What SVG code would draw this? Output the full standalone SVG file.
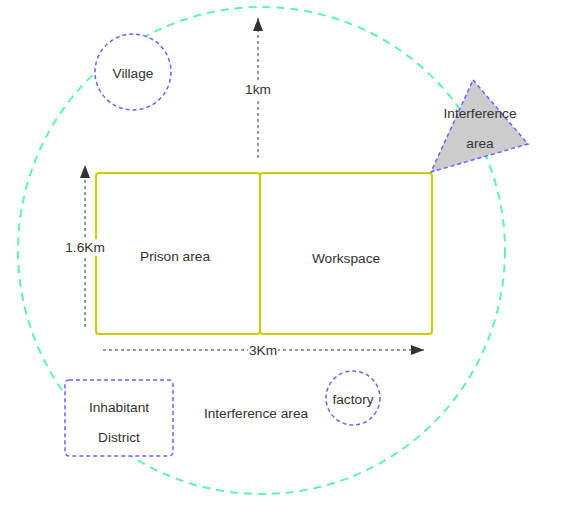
<svg xmlns="http://www.w3.org/2000/svg" width="571" height="529" viewBox="0 0 571 529">
<defs>
<marker id="ah" viewBox="0 0 13 10" refX="13" refY="5" markerWidth="13" markerHeight="10" markerUnits="userSpaceOnUse" orient="auto">
<path d="M0,0 L13,5 L0,10 Z" fill="#333"/>
</marker>
</defs>
<style>
text{font-family:"Liberation Sans",Arial,sans-serif;font-size:13.7px;fill:#333;text-anchor:middle;dominant-baseline:central}
.blue{fill:#fff;stroke:#6666ff;stroke-width:1.5;stroke-dasharray:4 3}
.yel{fill:#fff;stroke:#cccc00;stroke-width:2}
.dim{fill:none;stroke:#999;stroke-width:2;stroke-dasharray:3 3}
.bg{fill:#fff}
</style>
<rect width="571" height="529" fill="#fff"/>
<g id="boundary">
<circle cx="261.5" cy="250.5" r="243.5" fill="none" stroke="#5ef5ae" stroke-width="2" stroke-dasharray="8 6"/>
</g>
<g id="prison">
<rect class="yel" x="96" y="173" width="164" height="161" rx="3"/>
<text x="175" y="256">Prison area</text>
</g>
<g id="workspace">
<rect class="yel" x="260" y="173" width="172" height="161" rx="3"/>
<text x="346" y="258">Workspace</text>
</g>
<g id="connectors">
<line class="dim" x1="258" y1="158" x2="258" y2="18" marker-end="url(#ah)"/>
<line class="dim" x1="85" y1="327" x2="85" y2="165" marker-end="url(#ah)"/>
<line class="dim" x1="103" y1="350" x2="424" y2="350" marker-end="url(#ah)"/>
<rect class="bg" x="243" y="81" width="30" height="17"/>
<text x="258" y="89">1km</text>
<rect class="bg" x="64" y="239" width="42" height="17"/>
<text x="85" y="247">1.6Km</text>
<rect class="bg" x="248" y="342" width="30" height="16"/>
<text x="263" y="350">3Km</text>
</g>
<g id="village">
<circle class="blue" cx="133" cy="72" r="38"/>
<text x="133" y="73">Village</text>
</g>
<g id="interference-triangle">
<polygon points="473,80 528,144 431,172" fill="#cccccc" stroke="#6666ff" stroke-width="1.5" stroke-dasharray="4 3"/>
<text x="480" y="113">Interference</text>
<text x="480" y="143">area</text>
</g>
<g id="inhabitant">
<rect class="blue" x="65" y="380" width="108" height="76" rx="4"/>
<text x="119" y="407">Inhabitant</text>
<text x="119" y="437">District</text>
</g>
<g id="interference-label">
<text x="256" y="413">Interference area</text>
</g>
<g id="factory">
<circle class="blue" cx="353" cy="398" r="27"/>
<text x="353" y="399">factory</text>
</g>
</svg>
